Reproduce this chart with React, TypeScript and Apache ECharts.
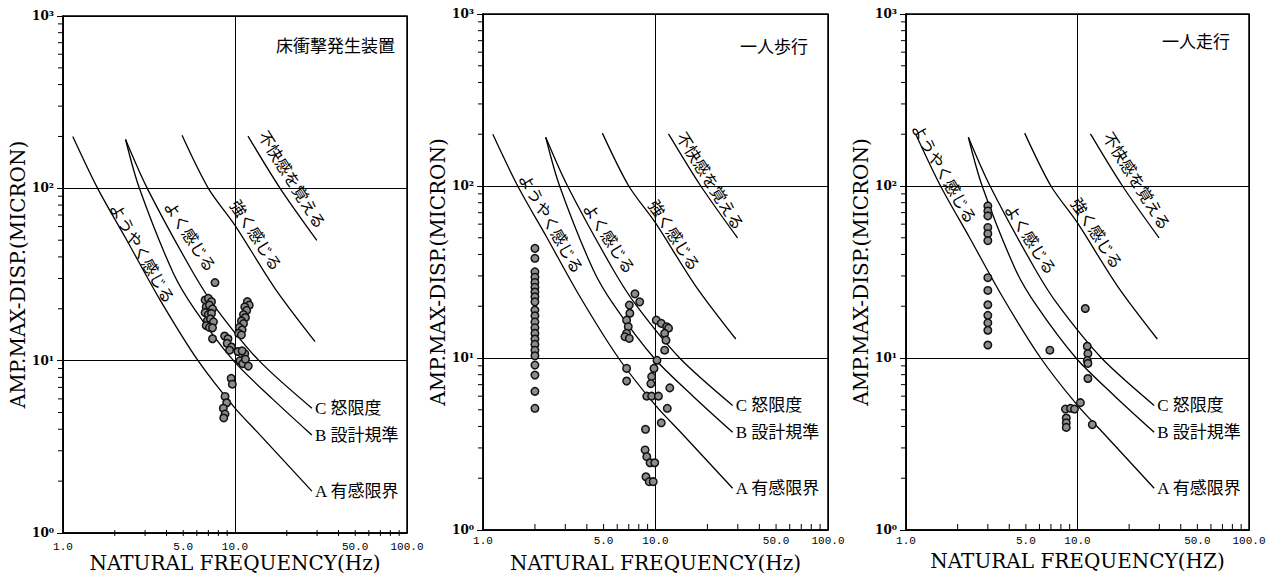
import React, { useEffect, useRef } from "react";
import * as echarts from "echarts";

// ---------- texts ----------
const PANEL_TITLES = ["床衝撃発生装置", "一人歩行", "一人走行"];
const X_AXIS_NAMES = ["NATURAL FREQUENCY(Hz)", "NATURAL FREQUENCY(Hz)", "NATURAL FREQUENCY(HZ)"];
const Y_AXIS_NAME = "AMP.MAX-DISP.(MICRON)";
const X_TICK_VALUES = [1, 5, 10, 50, 100];
const X_TICK_LABELS = ["1.0", "5.0", "10.0", "50.0", "100.0"];
const Y_TICK_LABELS = ["10⁰", "10¹", "10²", "10³"];
const X_MINOR_TICKS = [2, 3, 4, 5, 6, 7, 8, 9, 20, 30, 40, 50, 60, 70, 80, 90];
const Y_MINOR_TICKS = [2, 3, 4, 5, 6, 7, 8, 9, 20, 30, 40, 50, 60, 70, 80, 90, 200, 300, 400, 500, 600, 700, 800, 900];

// ---------- limit curves (frequency Hz, displacement micron) ----------
const CURVE_A = [[1.14, 200], [1.59, 100], [2.35, 50], [3.65, 22.7], [6.1, 10], [10, 5.3], [14, 3.7], [28, 1.75]];
const CURVE_B = [[2.31, 192], [2.78, 100], [4.36, 32.5], [5.8, 20], [9.8, 10], [16.5, 6.0], [28, 3.7]];
const CURVE_C = [[2.31, 192], [3.09, 100], [5.7, 32.5], [7.8, 20], [13.8, 10], [28, 5.3]];
const CURVE_STRONG = [[4.92, 203], [7.0, 100], [10, 61], [17.1, 26.2], [29.2, 12.9]];
const CURVE_UNPLEASANT = [[11.9, 201], [18.3, 100], [29.9, 49.9]];
const CURVE_END_LABELS = ["A 有感限界", "B 設計規準", "C 怒限度"];

const FEELING_LABELS = ["ようやく感じる", "よく感じる", "強く感じる", "不快感を覚える"];
const FEELING_ANGLES = [-60, -57, -57, -58];
const FEELING_ANCHORS = [
  [[2.92, 42.4], [5.55, 53], [13.4, 53.8], [21.7, 113]],
  [[2.51, 61], [5.45, 50], [13, 52], [21, 108]],
  [[1.69, 119], [5.38, 49.4], [13.1, 53.5], [22.4, 108]],
];

// ---------- measured points ----------
const SCATTER_1 = [
  [7.65, 28.4],
  [6.7, 22.5], [7.0, 23], [7.3, 22], [6.8, 20.5], [7.1, 21], [7.4, 20], [6.7, 19], [7.0, 18.5], [7.3, 18.8],
  [6.9, 17], [7.2, 17.5], [7.5, 16.8], [6.8, 16], [7.1, 15.6], [7.4, 15.5],
  [7.4, 13.4],
  [8.7, 13.9], [9.1, 13.4], [9.0, 12.6], [9.55, 12.0], [9.3, 11.5],
  [11.8, 22], [12.1, 21], [11.4, 20.5], [11.7, 19.6], [11.2, 18.5], [11.5, 17.8], [10.9, 17], [11.2, 16.4],
  [10.6, 15.6], [11.0, 15.1], [10.5, 14.4], [10.9, 14.1],
  [10.4, 11.3], [11.4, 11.0], [11.0, 11.4], [10.7, 10.0], [11.1, 9.6], [11.5, 10.2], [11.95, 9.3],
  [9.5, 7.9], [9.65, 7.3],
  [8.75, 6.2], [8.95, 5.7], [8.55, 5.3], [8.75, 4.9], [8.6, 4.65],
];
const SCATTER_2 = [
  [2, 43.4], [2, 38], [2, 31.7], [2, 29.5], [2, 27.5], [2, 25.8], [2, 24.2], [2, 22.7], [2, 21.2],
  [2, 19], [2, 17.6], [2, 16.2], [2, 15], [2, 13.9], [2, 12.9], [2, 12], [2, 11.1], [2, 10.3],
  [2, 9.1], [2, 7.96], [2, 6.4], [2, 5.1],
  [7.6, 23.6], [8.1, 21.2], [7.05, 20.3], [7.1, 18.2], [6.8, 16.6], [6.95, 15.2], [6.8, 13.9], [6.65, 13.3], [7.05, 13.0],
  [10.1, 16.6], [10.8, 15.9], [11.6, 15.2], [11.9, 14.9], [11.3, 13.9], [11.5, 12.7], [11.3, 11.1],
  [10.2, 9.7], [6.8, 8.7], [6.8, 7.35], [9.8, 8.7], [9.5, 7.8], [9.4, 7.1],
  [8.9, 6.0], [9.5, 6.0], [10.4, 6.0], [12.1, 6.7], [11.7, 5.1], [10.8, 4.2], [8.75, 3.85],
  [8.7, 2.92], [8.9, 2.67], [9.3, 2.46], [9.9, 2.46],
  [8.8, 2.04], [9.2, 1.91], [9.7, 1.91],
];
const SCATTER_3 = [
  [3, 76.6], [3, 71.6], [3, 67], [3, 57.4], [3, 52.8], [3, 48.1],
  [3, 29.3], [3, 24.7], [3, 20.4], [3, 17.7], [3, 16.0], [3, 14.5], [3, 11.9],
  [11.1, 19.4], [6.9, 11.1],
  [11.4, 11.7], [11.5, 10.6], [11.4, 9.7], [11.5, 9.3], [11.5, 7.6],
  [10.4, 5.5], [8.5, 5.05], [9.1, 5.1], [9.6, 5.05],
  [8.6, 4.48], [8.6, 4.2], [8.6, 3.95], [12.2, 4.1],
];
const SCATTERS = [SCATTER_1, SCATTER_2, SCATTER_3];

// ---------- layout ----------
const GRIDS = [
  { left: 63, top: 16, width: 344, height: 520 },
  { left: 483, top: 14, width: 345, height: 516 },
  { left: 906, top: 14, width: 343, height: 516 },
];
const TITLE_POS = [[395, 44], [808, 45], [1230, 40]];
const X_NAME_GAPS = [20, 23, 21];

const SERIF_JP = "'Liberation Serif', 'Noto Sans CJK JP', serif";
const JP = "'Noto Sans CJK JP', sans-serif";

function curveSeries(i: number, data: number[][], label?: string) {
  return {
    type: "line",
    xAxisIndex: i,
    yAxisIndex: i,
    data,
    symbol: "none",
    smooth: 0.3,
    silent: true,
    z: 2,
    lineStyle: { color: "#000", width: 1.3 },
    endLabel: label
      ? { show: true, formatter: label, distance: 3, color: "#000", fontSize: 17, fontFamily: SERIF_JP }
      : { show: false },
  };
}

export default function App() {
  const ref = useRef<HTMLDivElement>(null);
  useEffect(() => {
    const chart = echarts.init(ref.current!, null, { renderer: "svg" });
    const series: any[] = [];
    GRIDS.forEach((_, i) => {
      series.push(curveSeries(i, CURVE_A, CURVE_END_LABELS[0]));
      series.push(curveSeries(i, CURVE_B, CURVE_END_LABELS[1]));
      series.push(curveSeries(i, CURVE_C, CURVE_END_LABELS[2]));
      series.push(curveSeries(i, CURVE_STRONG));
      series.push(curveSeries(i, CURVE_UNPLEASANT));
      series.push({
        type: "scatter",
        xAxisIndex: i,
        yAxisIndex: i,
        data: SCATTERS[i],
        symbol: "circle",
        symbolSize: 7.5,
        z: 3,
        itemStyle: { color: "#8c8c8c", borderColor: "#111", borderWidth: 1.5, opacity: 1 },
      });
    });

    const option: any = {
      animation: false,
      backgroundColor: "#fff",
      grid: GRIDS.map((g) => ({ ...g, show: true, borderColor: "#000", borderWidth: 1.5, containLabel: false })),
      xAxis: GRIDS.map((_, i) => ({
        type: "log",
        logBase: 10,
        gridIndex: i,
        min: 1,
        max: 100,
        name: X_AXIS_NAMES[i],
        nameLocation: "middle",
        nameGap: X_NAME_GAPS[i],
        nameTextStyle: { fontFamily: "'DejaVu Serif', serif", fontSize: 20, color: "#000" },
        axisLine: { show: true, lineStyle: { color: "#000", width: 1.5 } },
        axisTick: { show: true, inside: true, length: 7, lineStyle: { color: "#000" } },
        axisLabel: { show: false },
        splitLine: { show: true, lineStyle: { color: "#000", width: 1 } },
      })),
      yAxis: GRIDS.map((_, i) => ({
        type: "log",
        logBase: 10,
        gridIndex: i,
        min: 1,
        max: 1000,
        name: Y_AXIS_NAME,
        nameLocation: "middle",
        nameRotate: 90,
        nameGap: 35,
        nameTextStyle: { fontFamily: "'DejaVu Serif', serif", fontSize: 20, color: "#000" },
        axisLine: { show: true, lineStyle: { color: "#000", width: 1.5 } },
        axisTick: { show: true, inside: false, length: 6, lineStyle: { color: "#000" } },
        axisLabel: {
          show: true,
          margin: 9,
          color: "#000",
          fontSize: 12,
          fontWeight: "bold",
          fontFamily: "'DejaVu Serif', serif",
          formatter: (v: number) => Y_TICK_LABELS[Math.round(Math.log10(v))] ?? "",
        },
        splitLine: { show: true, lineStyle: { color: "#000", width: 1 } },
      })),
      series,
    };
    chart.setOption(option);

    const graphics: any[] = [];
    GRIDS.forEach((g, i) => {
      const bottom = g.top + g.height;
      X_TICK_VALUES.forEach((v, k) => {
        const p = chart.convertToPixel({ gridIndex: i }, [v, 10]) as number[];
        graphics.push({
          type: "text",
          silent: true,
          x: p[0],
          y: bottom + 11,
          style: {
            text: X_TICK_LABELS[k],
            fill: "#000",
            font: "11px 'Liberation Mono', monospace",
            align: "center",
            verticalAlign: "middle",
            textAlign: "center",
            textVerticalAlign: "middle",
          },
        });
      });
      X_MINOR_TICKS.forEach((v) => {
        const p = chart.convertToPixel({ gridIndex: i }, [v, 10]) as number[];
        graphics.push({
          type: "line",
          silent: true,
          shape: { x1: p[0], y1: bottom, x2: p[0], y2: bottom - 6 },
          style: { stroke: "#000", lineWidth: 1 },
        });
      });
      Y_MINOR_TICKS.forEach((v) => {
        const p = chart.convertToPixel({ gridIndex: i }, [10, v]) as number[];
        graphics.push({
          type: "line",
          silent: true,
          shape: { x1: g.left - 5, y1: p[1], x2: g.left, y2: p[1] },
          style: { stroke: "#000", lineWidth: 1 },
        });
      });
      FEELING_LABELS.forEach((t, k) => {
        const a = FEELING_ANCHORS[i][k];
        const p = chart.convertToPixel({ gridIndex: i }, a) as number[];
        graphics.push({
          type: "text",
          silent: true,
          x: p[0],
          y: p[1],
          rotation: (FEELING_ANGLES[k] * Math.PI) / 180,
          style: {
            text: t,
            fill: "#000",
            font: "16px " + JP,
            align: "center",
            verticalAlign: "middle",
            textAlign: "center",
            textVerticalAlign: "middle",
          },
        });
      });
      graphics.push({
        type: "text",
        silent: true,
        x: TITLE_POS[i][0],
        y: TITLE_POS[i][1],
        style: {
          text: PANEL_TITLES[i],
          fill: "#000",
          font: "17px " + JP,
          align: "right",
          verticalAlign: "middle",
          textAlign: "right",
          textVerticalAlign: "middle",
        },
      });
    });
    chart.setOption({ graphic: graphics });

    return () => chart.dispose();
  }, []);

  return (
    <div
      ref={ref}
      style={{ position: "fixed", left: 0, top: 0, width: 1284, height: 578, background: "#fff" }}
    />
  );
}
